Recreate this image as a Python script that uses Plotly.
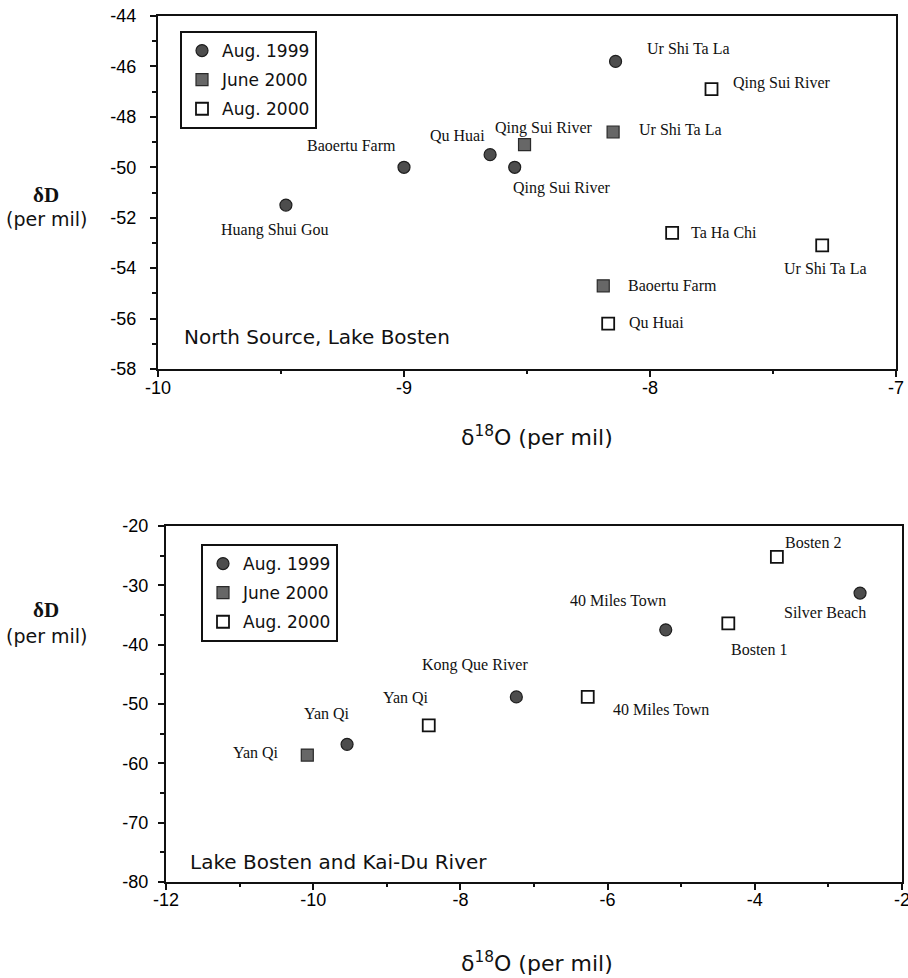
import plotly.graph_objects as go

# ---------------- data: top panel (North Source, Lake Bosten) ----------------
top_aug99_names = ["Huang Shui Gou", "Baoertu Farm", "Qu Huai", "Qing Sui River", "Ur Shi Ta La"]
top_aug99_o18 = [-9.48, -9.00, -8.65, -8.55, -8.14]
top_aug99_dD = [-51.5, -50.0, -49.5, -50.0, -45.8]

top_jun00_names = ["Qing Sui River", "Ur Shi Ta La", "Baoertu Farm"]
top_jun00_o18 = [-8.51, -8.15, -8.19]
top_jun00_dD = [-49.1, -48.6, -54.7]

top_aug00_names = ["Qing Sui River", "Ta Ha Chi", "Ur Shi Ta La", "Qu Huai"]
top_aug00_o18 = [-7.75, -7.91, -7.30, -8.17]
top_aug00_dD = [-46.9, -52.6, -53.1, -56.2]

# ---------------- data: bottom panel (Lake Bosten and Kai-Du River) ----------
bot_aug99_names = ["Yan Qi", "Kong Que River", "40 Miles Town", "Silver Beach"]
bot_aug99_o18 = [-9.54, -7.24, -5.21, -2.57]
bot_aug99_dD = [-56.8, -48.8, -37.5, -31.3]

bot_jun00_names = ["Yan Qi"]
bot_jun00_o18 = [-10.08]
bot_jun00_dD = [-58.6]

bot_aug00_names = ["Yan Qi", "40 Miles Town", "Bosten 1", "Bosten 2"]
bot_aug00_o18 = [-8.43, -6.27, -4.36, -3.70]
bot_aug00_dD = [-53.6, -48.8, -36.4, -25.2]

series_names = ["Aug. 1999", "June 2000", "Aug. 2000"]

# tick values / labels (hyphen minus as in the original)
top_x_ticks = [-10, -9, -8, -7]
top_y_ticks = [-58, -56, -54, -52, -50, -48, -46, -44]
bot_x_ticks = [-12, -10, -8, -6, -4, -2]
bot_y_ticks = [-80, -70, -60, -50, -40, -30, -20]


def tick_text(vals):
    return ["-" + str(abs(v)) if v < 0 else str(v) for v in vals]


# ---------------- label offsets (pixels: dx, dy-down, anchor) ---------------
top_offsets = [
    [(-11, 25, "center"), (-53, -22, "center"), (-33, -19, "center"), (47, 21, "center"), (73, -13, "center")],
    [(19, -17, "center"), (24, -2, "left"), (23, 0, "left")],
    [(19, -6, "left"), (17, 0, "left"), (3, 23, "center"), (19, -1, "left")],
]
bot_offsets = [
    [(-20, -31, "center"), (-41, -32, "center"), (-48, -29, "center"), (-35, 19, "center")],
    [(-51, -3, "center")],
    [(-23, -28, "center"), (23, 13, "left"), (31, 26, "center"), (36, -14, "center")],
]

W, H = 908, 978
marker_styles = [
    dict(symbol="circle", size=12, color="#4d4d4d", line=dict(color="#1e1e1e", width=1.2)),
    dict(symbol="square", size=12, color="#676767", line=dict(color="#2a2a2a", width=1.2)),
    dict(symbol="square-open", size=12, color="#111111", line=dict(color="#111111", width=1.8)),
]

fig = go.Figure()

panels = [
    dict(xa="x", ya="y", legend="legend",
         data=[(top_aug99_names, top_aug99_o18, top_aug99_dD),
               (top_jun00_names, top_jun00_o18, top_jun00_dD),
               (top_aug00_names, top_aug00_o18, top_aug00_dD)],
         offsets=top_offsets),
    dict(xa="x2", ya="y2", legend="legend2",
         data=[(bot_aug99_names, bot_aug99_o18, bot_aug99_dD),
               (bot_jun00_names, bot_jun00_o18, bot_jun00_dD),
               (bot_aug00_names, bot_aug00_o18, bot_aug00_dD)],
         offsets=bot_offsets),
]

annotations = []
label_font = dict(family="Liberation Serif", size=16, color="#111")
for p in panels:
    for i, (names, xs, ys) in enumerate(p["data"]):
        fig.add_trace(go.Scatter(
            x=xs, y=ys, mode="markers", name=series_names[i],
            marker=marker_styles[i], xaxis=p["xa"], yaxis=p["ya"],
            legend=p["legend"], legendgroup=p["legend"] + str(i),
            hoverinfo="skip",
        ))
        for j, nm in enumerate(names):
            dx, dy, anc = p["offsets"][i][j]
            annotations.append(dict(
                x=xs[j], y=ys[j], xref=p["xa"], yref=p["ya"], text=nm,
                showarrow=False, xshift=dx, yshift=-dy, xanchor=anc,
                yanchor="middle", font=label_font,
            ))

# text annotations (titles etc.)
sans = "DejaVu Sans"
annotations += [
    dict(x=182 / W, y=1 - 337 / H, xref="paper", yref="paper", text="North Source, Lake Bosten",
         showarrow=False, xanchor="left", yanchor="middle", font=dict(family=sans, size=20, color="#111")),
    dict(x=188 / W, y=1 - 862 / H, xref="paper", yref="paper", text="Lake Bosten and Kai-Du River",
         showarrow=False, xanchor="left", yanchor="middle", font=dict(family=sans, size=20, color="#111")),
    dict(x=537 / W, y=1 - 436 / H, xref="paper", yref="paper", text="δ<sup>18</sup>O (per mil)",
         showarrow=False, xanchor="center", yanchor="middle", font=dict(family=sans, size=22, color="#111")),
    dict(x=537 / W, y=1 - 962 / H, xref="paper", yref="paper", text="δ<sup>18</sup>O (per mil)",
         showarrow=False, xanchor="center", yanchor="middle", font=dict(family=sans, size=22, color="#111")),
    dict(x=46 / W, y=1 - 195 / H, xref="paper", yref="paper", text="<b>δD</b>",
         showarrow=False, xanchor="center", yanchor="middle", font=dict(family="Liberation Serif", size=21, color="#111")),
    dict(x=47 / W, y=1 - 219 / H, xref="paper", yref="paper", text="(per mil)",
         showarrow=False, xanchor="center", yanchor="middle", font=dict(family=sans, size=19, color="#111")),
    dict(x=46 / W, y=1 - 610 / H, xref="paper", yref="paper", text="<b>δD</b>",
         showarrow=False, xanchor="center", yanchor="middle", font=dict(family="Liberation Serif", size=21, color="#111")),
    dict(x=47 / W, y=1 - 636 / H, xref="paper", yref="paper", text="(per mil)",
         showarrow=False, xanchor="center", yanchor="middle", font=dict(family=sans, size=19, color="#111")),
]

tickfont = dict(family="Liberation Sans", size=18, color="#000")
axis_common = dict(showline=True, linecolor="#111", linewidth=2.4, mirror=True,
                   ticks="outside", ticklen=6, tickwidth=1.6, tickcolor="#111",
                   showgrid=False, zeroline=False, tickfont=tickfont, fixedrange=True,
                   automargin=False, tickmode="array", ticklabeloverflow="allow")

fig.update_layout(
    width=W, height=H, paper_bgcolor="white", plot_bgcolor="white",
    margin=dict(l=0, r=0, t=0, b=0, autoexpand=False),
    showlegend=True,
    xaxis=dict(domain=[158 / W, 896 / W], range=[-10, -7], anchor="y",
               tickvals=top_x_ticks, ticktext=tick_text(top_x_ticks),
               minor=dict(ticks="outside", ticklen=3, dtick=0.5, tickcolor="#111"),
               ticklabelstandoff=-5, **axis_common),
    yaxis=dict(domain=[1 - 369 / H, 1 - 16 / H], range=[-58, -44], anchor="x",
               tickvals=top_y_ticks, ticktext=tick_text(top_y_ticks),
               minor=dict(ticks="outside", ticklen=4, dtick=1, tickcolor="#111"),
               ticklabelstandoff=10, **axis_common),
    xaxis2=dict(domain=[166 / W, 902 / W], range=[-12, -2], anchor="y2",
                tickvals=bot_x_ticks, ticktext=tick_text(bot_x_ticks),
                minor=dict(ticks="outside", ticklen=3, dtick=1, tickcolor="#111"),
                ticklabelstandoff=-6, **axis_common),
    yaxis2=dict(domain=[1 - 882 / H, 1 - 526 / H], range=[-80, -20], anchor="x2",
                tickvals=bot_y_ticks, ticktext=tick_text(bot_y_ticks),
                minor=dict(ticks="outside", ticklen=4, dtick=5, tickcolor="#111"),
                ticklabelstandoff=6, **axis_common),
    legend=dict(x=180 / W, y=1 - 31 / H, xanchor="left", yanchor="top",
                bgcolor="white", bordercolor="#111", borderwidth=2,
                font=dict(family=sans, size=17, color="#111"), tracegroupgap=4),
    legend2=dict(x=201 / W, y=1 - 544 / H, xanchor="left", yanchor="top",
                 bgcolor="white", bordercolor="#111", borderwidth=2,
                 font=dict(family=sans, size=17, color="#111"), tracegroupgap=4),
    annotations=annotations,
)

fig.write_html("out.html", config={"displayModeBar": False},
               post_script="document.body.style.margin='0px';document.body.style.overflow='hidden';")
